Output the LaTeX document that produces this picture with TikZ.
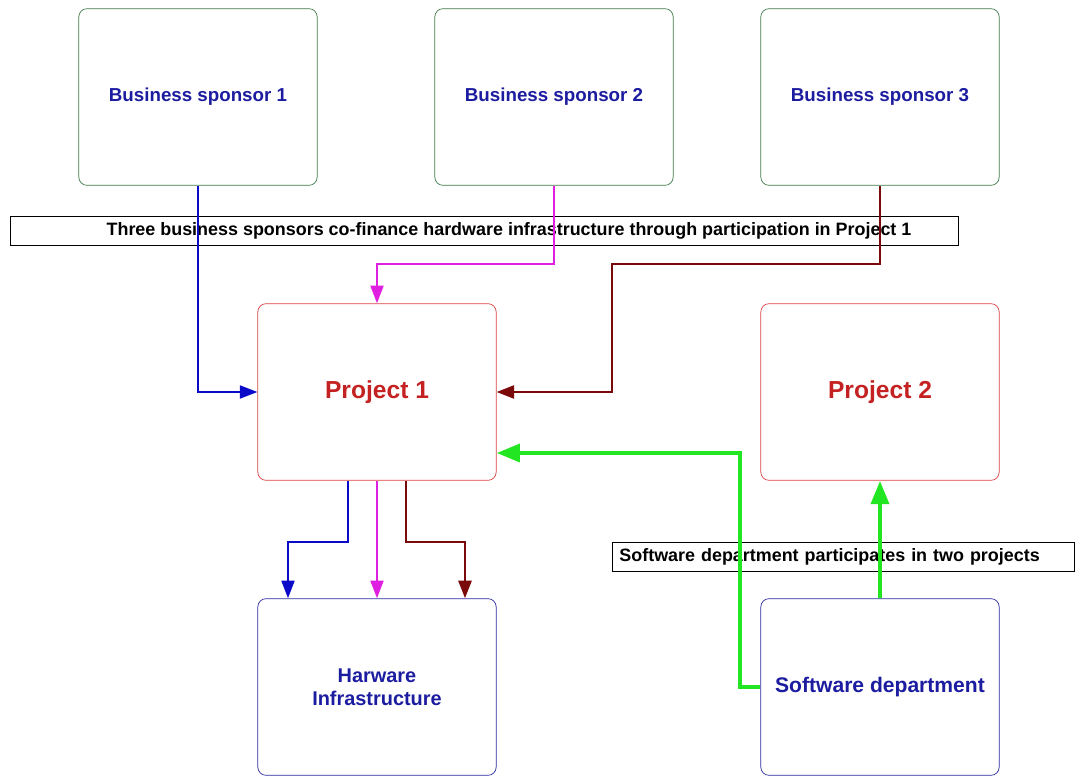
\documentclass[tikz,border=0pt]{standalone}
\usepackage{fontspec}
\setmainfont{Liberation Sans}
\usetikzlibrary{arrows.meta}
\definecolor{boxgreen}{HTML}{3F7A4A}
\definecolor{boxred}{HTML}{D84040}
\definecolor{boxblue}{HTML}{2A2AA0}
\definecolor{txtblue}{HTML}{1C1CA0}
\definecolor{txtred}{HTML}{C42222}
\definecolor{lnblue}{HTML}{0A0AC8}
\definecolor{lnmag}{HTML}{E020E0}
\definecolor{lnred}{HTML}{7A0A0A}
\definecolor{lngreen}{HTML}{22E622}
\tikzset{
    unit/.style={draw, line width=0.6pt, rounded corners=7pt, minimum width=7.15cm, minimum height=5.3cm, align=center, font=\fontsize{16}{19}\selectfont\bfseries},
    sponsor/.style={unit, draw=boxgreen, text=txtblue},
    project/.style={unit, draw=boxred, text=txtred, font=\fontsize{21}{25}\selectfont\bfseries},
    dept/.style={unit, draw=boxblue, text=txtblue},
    banner/.style={draw, fill=white, line width=0.7pt, minimum height=0.87cm, font=\fontsize{15.3}{18}\selectfont\bfseries},
    link/.style={-{Triangle[length=15pt,width=11pt]}},
    thick link/.style={-{Triangle[length=20pt,width=15pt]}},
}
\begin{document}
\begin{tikzpicture}[x=0.03cm, y=-0.03cm]
    \useasboundingbox (0,0) rectangle (1079,776);
    % boxes
        \node (bsa) [sponsor] at (198,97) {Business sponsor 1};
        \node (bsb) [sponsor] at (554,97) {Business sponsor 2};
        \node (bsc) [sponsor] at (880,97) {Business sponsor 3};
        \node (pa) [project] at (377,392) {Project 1};
        \node (pb) [project] at (880,392) {Project 2};
        \node (hw) [dept, font=\fontsize{17}{20}\selectfont\bfseries] at (377,687) {Harware\\Infrastructure};
        \node (sd) [dept, font=\fontsize{18}{21}\selectfont\bfseries] at (880,687) {Software department};
    % captions
        \node (capa) [banner, minimum width=28.44cm] at (484,230.5) {\hspace*{1.5cm}Three business sponsors co-finance hardware infrastructure through participation in Project 1};
        \node (capb) [banner, anchor=west, text width=13.45cm, inner xsep=6pt, align=left] at (612,557) {Software department participates in two projects};
    % bend points
        \coordinate (tm) at (377,264);
        \coordinate (tr) at (612,264);
        \coordinate (tg) at (740,453);
        \coordinate (xb) at (348,542);
        \coordinate (lb) at (288,542);
        \coordinate (xr) at (406,542);
        \coordinate (rr) at (465,542);
    % sponsors to project 1
        \draw [link, lnblue, line width=1.8pt] (bsa.south) |- (pa.west);
        \draw [link, lnmag, line width=1.8pt] (bsb.south) |- (tm) -- (pa.north);
        \draw [link, lnred, line width=2.4pt] (bsc.south) |- (tr) |- (pa.east);
    % software department
        \draw [thick link, lngreen, line width=4pt] (sd.west) -| (tg) -- (pa.east |- tg);
        \draw [thick link, lngreen, line width=4pt] (sd.north) -- (pb.south);
    % project 1 to hardware
        \draw [link, lnblue, line width=1.8pt] (pa.south -| xb) -- (xb) -- (lb) -- (hw.north -| lb);
        \draw [link, lnmag, line width=1.8pt] (pa.south) -- (hw.north);
        \draw [link, lnred, line width=2.4pt] (pa.south -| xr) -- (xr) -- (rr) -- (hw.north -| rr);
    \end{tikzpicture}
\end{document}
